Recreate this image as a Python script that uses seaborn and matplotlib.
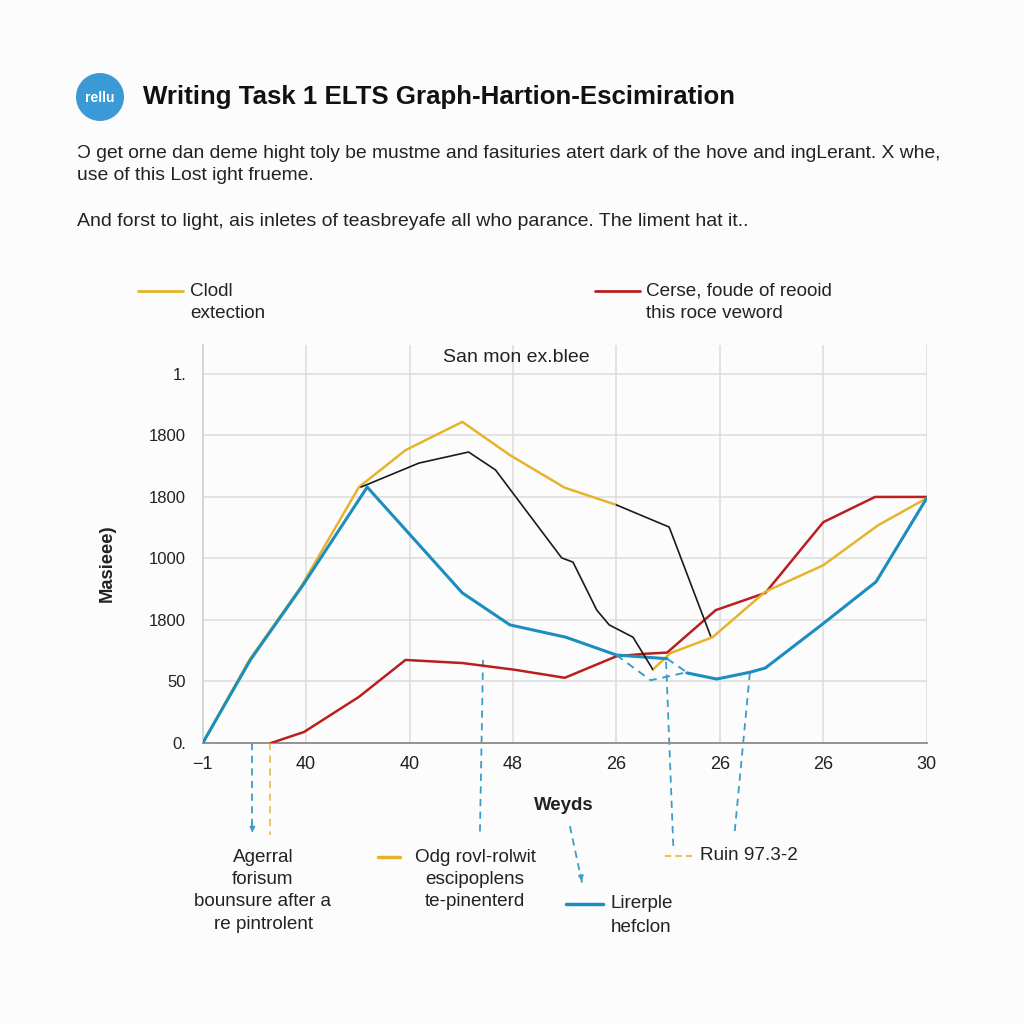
import matplotlib
matplotlib.use("Agg")
import matplotlib.pyplot as plt
from matplotlib.lines import Line2D
from matplotlib.patches import Circle
import seaborn as sns
import pandas as pd

# ---------------- data ----------------
x_tick_labels = ["\u22121", "40", "40", "48", "26", "26", "26", "30"]
y_tick_labels = ["0.", "50", "1800", "1000", "1800", "1800", "1."]

yellow_x_a = [0, 0.45, 0.95, 1.51, 1.96, 2.51, 2.97, 3.50, 4.00]
yellow_y_a = [0, 1.35, 2.54, 4.16, 4.76, 5.22, 4.68, 4.15, 3.87]
yellow_x_b = [4.35, 4.52, 4.93, 5.44, 6.00, 6.53, 7.00]
yellow_y_b = [1.19, 1.46, 1.72, 2.46, 2.89, 3.54, 3.98]

black_x_a = [1.53, 2.09, 2.57, 2.83, 3.47, 3.58, 3.81, 3.93, 4.16, 4.35]
black_y_a = [4.16, 4.55, 4.73, 4.44, 3.01, 2.94, 2.16, 1.92, 1.72, 1.20]
black_x_b = [4.00, 4.51, 4.91]
black_y_b = [3.87, 3.51, 1.74]

blue_x_a = [0, 0.46, 0.97, 1.59, 2.51, 2.97, 3.51, 4.00, 4.49]
blue_y_a = [0, 1.35, 2.57, 4.16, 2.44, 1.92, 1.72, 1.43, 1.37]
blue_x_b = [4.68, 4.97, 5.29, 5.44, 5.99, 6.51, 7.00]
blue_y_b = [1.14, 1.04, 1.15, 1.22, 1.93, 2.62, 3.98]

blue_dash_x_a = [4.00, 4.33, 4.68]
blue_dash_y_a = [1.43, 1.02, 1.15]
blue_dash_x_b = [4.49, 4.68]
blue_dash_y_b = [1.37, 1.15]

red_x = [0.66, 0.98, 1.51, 1.96, 2.51, 3.02, 3.50, 4.00, 4.27, 4.49, 4.96, 5.44, 6.00, 6.50, 7.00]
red_y = [0, 0.18, 0.75, 1.35, 1.30, 1.19, 1.06, 1.41, 1.45, 1.47, 2.16, 2.44, 3.59, 4.00, 4.00]

# annotation drop lines (data coords, below the axis)
drop_blue_1 = ([0.48, 0.48], [0.0, -1.45])
drop_yellow_1 = ([0.65, 0.65], [0.0, -1.50])
drop_blue_2 = ([2.71, 2.68], [1.35, -1.46])
drop_blue_3 = ([4.48, 4.55], [1.32, -1.69])
drop_blue_4 = ([5.29, 5.14], [1.14, -1.50])
weyds_arrow = ([3.55, 3.67], [-1.35, -2.29])

# ---------------- colours ----------------
YELLOW = "#E6B42C"
RED = "#B81F1E"
BLUE = "#1B8DBE"
BLACK = "#1a1a1a"
DBLUE = "#3C9DC6"
BG = "#fcfcfc"

sns.set_theme(style="whitegrid")
plt.rcParams["font.family"] = ["Liberation Sans", "DejaVu Sans"]

fig = plt.figure(figsize=(10.24, 10.24), dpi=100, facecolor=BG)
ax = fig.add_axes([0.198, 0.2744, 0.707, 0.3887])
ax.set_facecolor(BG)


def seg(x, y, color, lw, ls="-", z=2):
    df = pd.DataFrame({"x": x, "y": y})
    sns.lineplot(data=df, x="x", y="y", sort=False, estimator=None, color=color,
                 linewidth=lw, linestyle=ls, ax=ax, zorder=z)


seg(red_x, red_y, RED, 1.8, z=3)
seg(yellow_x_a, yellow_y_a, YELLOW, 1.8, z=4)
seg(yellow_x_b, yellow_y_b, YELLOW, 1.8, z=4)
seg(blue_x_a, blue_y_a, BLUE, 2.2, z=5)
seg(blue_x_b, blue_y_b, BLUE, 2.2, z=5)
seg(black_x_a, black_y_a, BLACK, 1.2, z=6)
seg(black_x_b, black_y_b, BLACK, 1.2, z=6)
seg(blue_dash_x_a, blue_dash_y_a, DBLUE, 1.4, ls=(0, (4, 3)), z=5)
seg(blue_dash_x_b, blue_dash_y_b, DBLUE, 1.4, ls=(0, (4, 3)), z=5)

ax.set_xlim(0, 7)
ax.set_ylim(0, 6.47)
ax.set_xticks(range(8))
ax.set_xticklabels(x_tick_labels)
ax.set_yticks(range(7))
ax.set_yticklabels(y_tick_labels)
ax.tick_params(axis="both", length=0, colors="#222222")
ax.tick_params(axis="x", pad=9, labelsize=13)
ax.tick_params(axis="y", pad=12, labelsize=12)
ax.grid(True, color="#dcdcdc", linewidth=1.1)
ax.set_xlabel("")
ax.set_ylabel("")
for s in ["top", "right"]:
    ax.spines[s].set_visible(False)
ax.spines["left"].set_color("#cfcfcf")
ax.spines["left"].set_linewidth(1.1)
ax.spines["bottom"].set_color("#8c8c8c")
ax.spines["bottom"].set_linewidth(1.3)

ax.text(3.03, 6.27, "San mon ex.blee", ha="center", va="center", fontsize=14, color="#222")

# drop lines
for (xs, ys), col in [(drop_blue_1, DBLUE), (drop_yellow_1, "#EBC24E"), (drop_blue_2, DBLUE),
                      (drop_blue_3, DBLUE), (drop_blue_4, DBLUE)]:
    ax.plot(xs, ys, color=col, lw=1.3, ls=(0, (4, 3)), clip_on=False, zorder=1)
ax.annotate("", xy=(drop_blue_1[0][1], drop_blue_1[1][1] - 0.05),
            xytext=(drop_blue_1[0][1], drop_blue_1[1][1] + 0.2),
            arrowprops=dict(arrowstyle="-|>", color=DBLUE, lw=1.0, mutation_scale=8),
            annotation_clip=False)
ax.plot(weyds_arrow[0], weyds_arrow[1], color=DBLUE, lw=1.3, ls=(0, (4, 3)), clip_on=False)
ax.annotate("", xy=(weyds_arrow[0][1], weyds_arrow[1][1]),
            xytext=(weyds_arrow[0][1] - 0.02, weyds_arrow[1][1] + 0.2),
            arrowprops=dict(arrowstyle="-|>", color=DBLUE, lw=1.0, mutation_scale=8),
            annotation_clip=False)


def fy(py):
    return 1 - py / 1024


def fx(px):
    return px / 1024


# header
fig.add_artist(Circle((fx(100), fy(97)), 24 / 1024, transform=fig.transFigure,
                      facecolor="#3B9AD6", edgecolor="none"))
fig.text(fx(100), fy(98), "rellu", ha="center", va="center", color="white",
         fontsize=10, fontweight="bold")
fig.text(fx(143), fy(97), "Writing Task 1 ELTS Graph-Hartion-Escimiration", ha="left", va="center",
         fontsize=18.6, fontweight="bold", color="#111")
fig.text(fx(77), fy(153), "Ͻ get orne dan deme hight toly be mustme and fasituries atert dark of the hove and ingLerant. X whe,",
         ha="left", va="center", fontsize=13.9, color="#222")
fig.text(fx(77), fy(175), "use of this Lost ight frueme.", ha="left", va="center", fontsize=13.9, color="#222")
fig.text(fx(77), fy(221), "And forst to light, ais inletes of teasbreyafe all who parance. The liment hat it..",
         ha="left", va="center", fontsize=14, color="#222")

FS = 13.6
# top legends
fig.add_artist(Line2D([fx(138), fx(183)], [fy(291), fy(291)], color=YELLOW, lw=2))
fig.text(fx(190), fy(291), "Clodl", ha="left", va="center", fontsize=FS, color="#222")
fig.text(fx(190), fy(314), "extection", ha="left", va="center", fontsize=FS, color="#222")
fig.add_artist(Line2D([fx(595), fx(640)], [fy(291), fy(291)], color=RED, lw=2))
fig.text(fx(646), fy(291), "Cerse, foude of reooid", ha="left", va="center", fontsize=FS, color="#222")
fig.text(fx(646), fy(314), "this roce veword", ha="left", va="center", fontsize=FS, color="#222")

# axis labels
fig.text(fx(107), fy(563), "Masieee)", rotation=90, ha="center", va="center",
         fontsize=13.2, fontweight="bold", color="#222")
fig.text(fx(564), fy(805), "Weyds", ha="center", va="center", fontsize=13.4, fontweight="bold", color="#222")

# bottom legends / notes
for i, t in enumerate(["Agerral", "forisum", "bounsure after a", "re pintrolent"]):
    fig.text(fx(263), fy(857 + i * 22.5), t, ha="center", va="center", fontsize=FS, color="#222")
fig.add_artist(Line2D([fx(378), fx(400)], [fy(857), fy(857)], color=YELLOW, lw=2.5))
for i, t in enumerate(["Odg rovl-rolwit", "escipoplens", "te-pinenterd"]):
    fig.text(fx(475), fy(857 + i * 22.5), t, ha="center", va="center", fontsize=FS, color="#222")
fig.add_artist(Line2D([fx(566), fx(603)], [fy(904), fy(904)], color=BLUE, lw=2.5))
fig.text(fx(611), fy(904), "Lirerple", ha="left", va="center", fontsize=FS, color="#222")
fig.text(fx(611), fy(927), "hefclon", ha="left", va="center", fontsize=FS, color="#222")
fig.add_artist(Line2D([fx(665), fx(692)], [fy(856), fy(856)], color="#EBC24E", lw=1.5, ls=(0, (3, 2))))
fig.text(fx(700), fy(856), "Ruin 97.3-2", ha="left", va="center", fontsize=FS, color="#222")

fig.savefig("out.png", dpi=100, facecolor=BG)
